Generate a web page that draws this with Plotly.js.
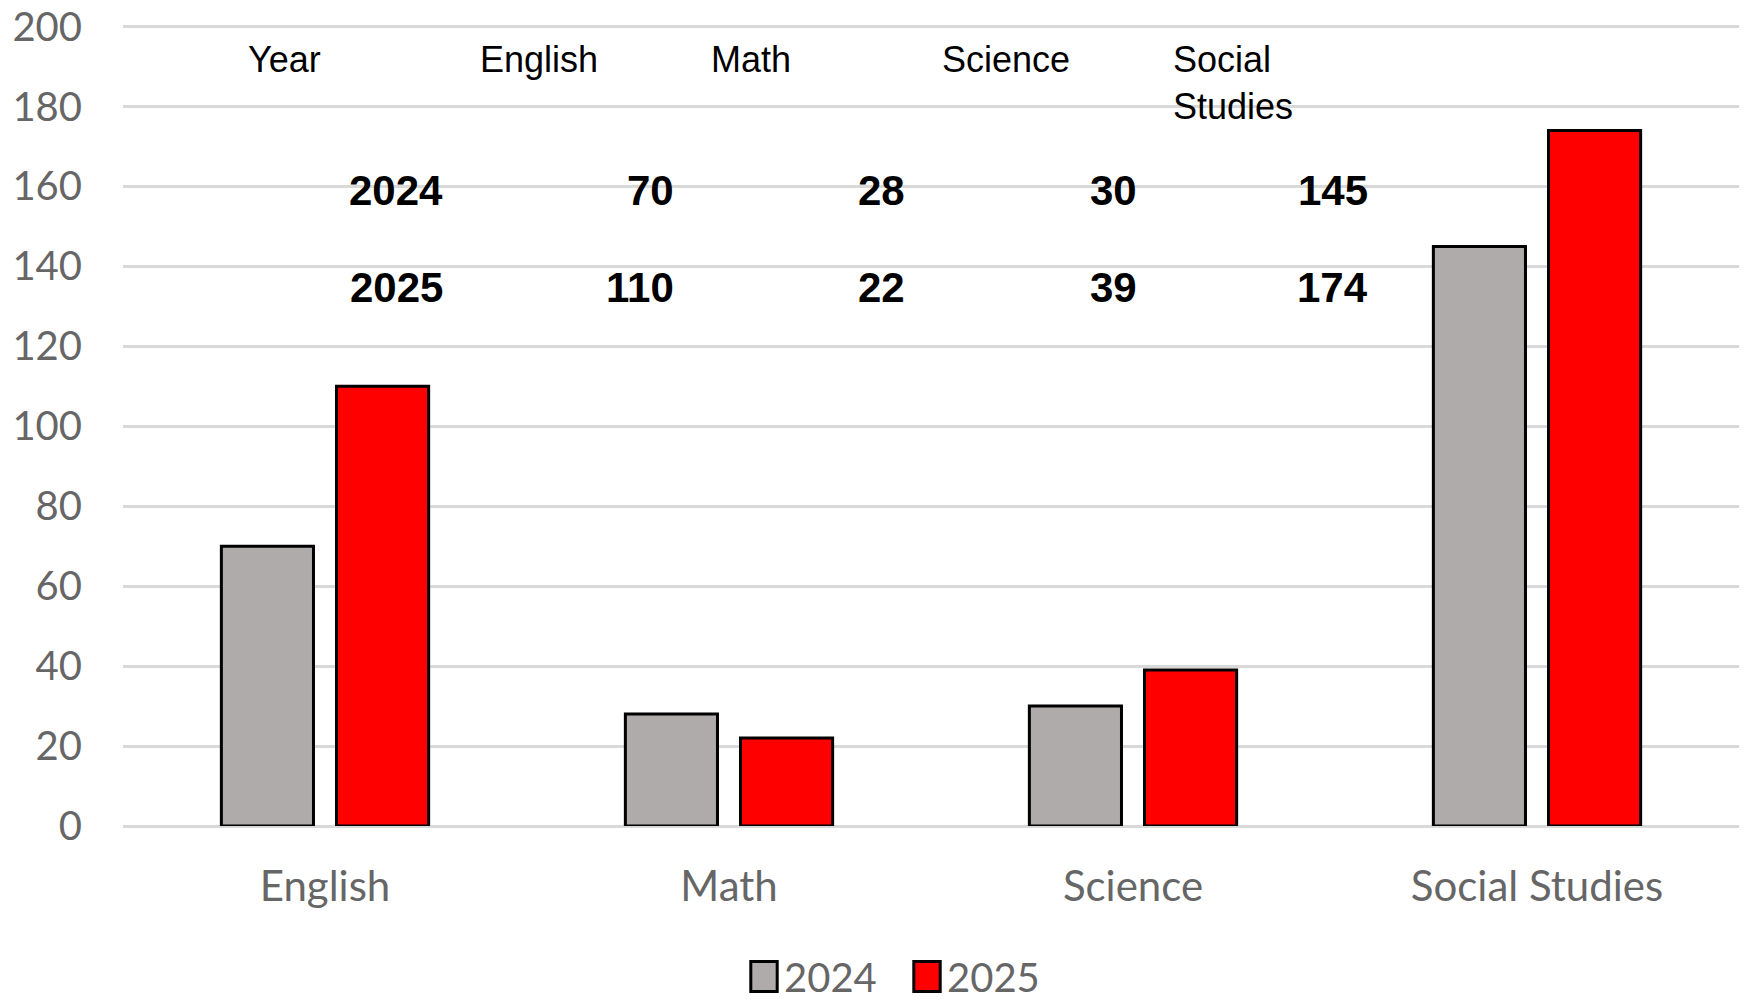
<!DOCTYPE html>
<html>
<head>
<meta charset="utf-8">
<script src="https://cdn.plot.ly/plotly-3.0.1.min.js"></script>
<style>html,body{margin:0;padding:0;background:#fff;}#chart{width:1750px;height:1005px;}</style>
</head>
<body>
<div id="chart"></div>
<script>
const categories = ["English", "Math", "Science", "Social Studies"];
const years = ["2024", "2025"];
const values2024 = [70, 28, 30, 145];
const values2025 = [110, 22, 39, 174];
const yTicks = [0, 20, 40, 60, 80, 100, 120, 140, 160, 180, 200];
const tableHeader = "Year";

const W = 1750, H = 1005;
const L = 123, R = 11, T = 25, B = 179;
const pw = W - L - R, ph = H - T - B;
const px = x => (x - L) / pw;
const py = y => (H - B - y) / ph;

const traces = [
  {type: 'bar', name: years[0], x: categories, y: values2024,
   marker: {color: '#AFABAB', line: {color: '#000', width: 3}}},
  {type: 'bar', name: years[1], x: categories, y: values2025,
   marker: {color: '#FF0000', line: {color: '#000', width: 3}}}
];

const annotations = [];
const colX = [246, 478, 709, 940, 1171];
const numRight = [445, 676, 907, 1139, 1370];
const rowY = [191, 287];
const headers = [tableHeader].concat(categories.map(c => c.replace(' ', '<br>')));
headers.forEach((h, i) => {
  annotations.push({xref: 'paper', yref: 'paper', x: px(colX[i]), y: py(37),
    xanchor: 'left', yanchor: 'top', align: 'left', showarrow: false, text: h,
    font: {family: 'Liberation Sans, Arial', size: 36, color: '#000'}});
});
const rows = [[years[0]].concat(values2024), [years[1]].concat(values2025)];
rows.forEach((r, ri) => {
  r.forEach((v, i) => {
    annotations.push({xref: 'paper', yref: 'paper', x: px(numRight[i]), y: py(rowY[ri]),
      xanchor: 'right', yanchor: 'middle', showarrow: false, text: '<b>' + v + '</b>',
      font: {family: 'Liberation Sans, Arial', size: 42, color: '#000'}});
  });
});

const layout = {
  width: W, height: H,
  margin: {l: L, r: R, t: T, b: B},
  paper_bgcolor: '#fff', plot_bgcolor: '#fff',
  barmode: 'group', bargap: 0.43, bargroupgap: 0.2,
  font: {family: 'Lato, Open Sans', color: '#666'},
  xaxis: {showgrid: false, showline: false, zeroline: false, ticks: '',
    tickfont: {family: 'Lato', size: 42, color: '#666'}, ticklabelstandoff: 32},
  yaxis: {range: [0, 200.4], tickvals: yTicks, showgrid: true, gridcolor: '#D9D9D9', gridwidth: 3,
    zeroline: true, zerolinecolor: '#D9D9D9', zerolinewidth: 3, showline: false, ticks: '',
    tickfont: {family: 'Lato', size: 40, color: '#666'}, ticklabelstandoff: 40,
    ticklabeloverflow: 'allow'},
  showlegend: true,
  legend: {orientation: 'h', x: px(907), xanchor: 'center', y: 0, yanchor: 'bottom',
    entrywidth: 118,
    font: {family: 'Lato', size: 40, color: '#666'}, itemclick: false},
  annotations: annotations
};

function fixLegend(gd) {
  gd.querySelectorAll('.legendpoints path').forEach(p => {
    p.setAttribute('transform', 'translate(20,0) scale(2.2,2.5)');
    p.setAttribute('vector-effect', 'non-scaling-stroke');
    p.style.strokeWidth = '3px';
    p.style.stroke = '#000';
  });
  const lg = gd.querySelector('.legend');
  if (lg && !lg.dataset.moved) {
    const tr = lg.getAttribute('transform') || '';
    const m = tr.match(/translate\(([-\d.]+)[ ,]+([-\d.]+)\)/);
    if (m) {
      const fy = H - 61;
      lg.setAttribute('transform', 'translate(' + m[1] + ',' + fy + ')');
      lg.dataset.moved = '1';
    }
  }
}

Plotly.newPlot('chart', traces, layout, {displayModeBar: false, staticPlot: true}).then(gd => {
  fixLegend(gd);
  setTimeout(() => fixLegend(gd), 200);
});
</script>
</body>
</html>
